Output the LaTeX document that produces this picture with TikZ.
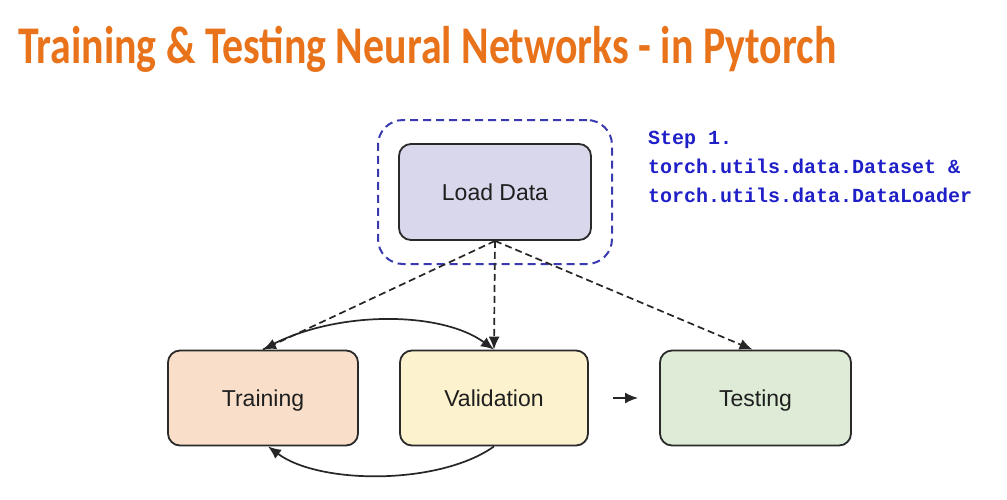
\documentclass[tikz,border=0pt]{standalone}
\usepackage{fontspec}
\setmainfont{Liberation Sans}
\newfontfamily\titlefont{Carlito}
\newfontfamily\codefont{Liberation Mono}
\usetikzlibrary{arrows.meta,calc}
\definecolor{titleorange}{HTML}{E8731A}
\definecolor{stepblue}{HTML}{2020C8}
\definecolor{dashblue}{HTML}{3A3AB0}
\definecolor{ldfill}{HTML}{D9D7EC}
\definecolor{trfill}{HTML}{F9DFCA}
\definecolor{vafill}{HTML}{FCF2CD}
\definecolor{tefill}{HTML}{DDEBD7}
\definecolor{boxline}{HTML}{2A2A2A}
\tikzset{
  procbox/.style={draw=boxline, line width=1.8pt, rounded corners=12pt,
    minimum height=95pt, text=black!88, text height=16pt, text depth=0pt,
    font=\fontsize{23}{27}\selectfont},
  dasharrow/.style={draw=black!85, line width=1.7pt, dash pattern=on 7pt off 4pt,
    -{Latex[length=13pt,width=11pt]}},
  solidarrow/.style={draw=black!85, line width=1.7pt, -{Latex[length=13pt,width=11pt]}},
}
\begin{document}
\begin{tikzpicture}[x=1pt,y=-1pt]
\useasboundingbox (0,0) rectangle (1007,499);
\fill[white] (0,0) rectangle (1007,499);
\node[anchor=base west, inner sep=0pt, text=titleorange, font=\titlefont\bfseries\fontsize{53}{60}\selectfont] (title) at (18,63) {\scalebox{0.79}[1]{Training \& Testing Neural Networks - in Pytorch}};
\node[draw=dashblue, line width=2pt, dash pattern=on 8pt off 5pt, rounded corners=25pt,
  minimum width=234pt, minimum height=144pt, inner sep=0pt] (group) at (495,192) {};
\node[procbox, fill=ldfill, minimum width=192pt, minimum height=96pt] (ld) at (495,192) {Load Data};
\node[procbox, fill=trfill, minimum width=190pt] (tr) at (263,398) {Training};
\node[procbox, fill=vafill, minimum width=188pt] (va) at (494,398) {Validation};
\node[procbox, fill=tefill, minimum width=191pt] (te) at (755.5,398) {Testing};
\node[anchor=north west, inner sep=0pt, align=left, text=stepblue,
  font=\codefont\bfseries\fontsize{20}{29}\selectfont] (step) at (648,131)
  {Step 1.\\torch.utils.data.Dataset \&\\torch.utils.data.DataLoader};
\draw[dasharrow] (ld.south) -- (tr.north);
\draw[dasharrow] (ld.south) -- (va.north);
\draw[dasharrow] (ld.south) -- ($(te.north)+(-3,0)$);
\draw[solidarrow] (tr.north) .. controls (330,310) and (440,310) .. (va.north);
\draw[solidarrow] (va.south) .. controls (440,485) and (320,485) .. ($(tr.south)+(5,0)$);
\coordinate (sa) at (613,398);
\coordinate (sb) at (638,398);
\draw[solidarrow] (sa) -- (sb);
\end{tikzpicture}
\end{document}
